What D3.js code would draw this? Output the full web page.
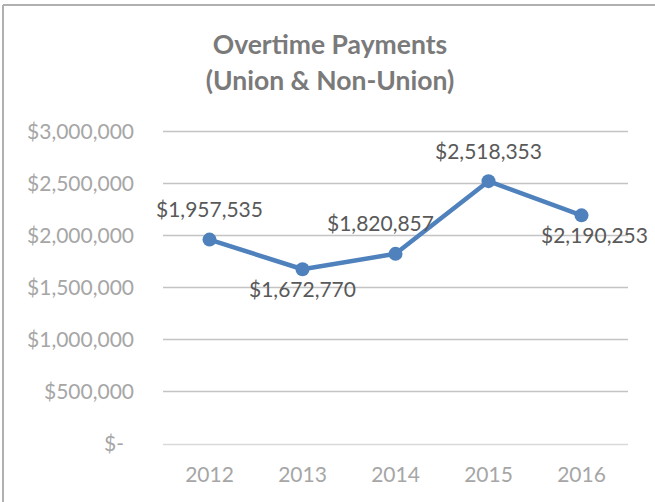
<!DOCTYPE html>
<html><head><meta charset="utf-8">
<script src="https://cdn.jsdelivr.net/npm/d3@7"></script>
<style>body{margin:0;background:#fff}svg{display:block}</style>
</head><body>
<script>
const years = ["2012","2013","2014","2015","2016"];
const payments = [1957535, 1672770, 1820857, 2518353, 2190253];
const yTicks = [0, 500000, 1000000, 1500000, 2000000, 2500000, 3000000];
const titleLines = ["Overtime Payments", "(Union & Non-Union)"];
const labelPlacement = ["above", "below", "aboveLeft", "above", "belowRight"];

const W = 655, H = 502;
const svg = d3.select("body").append("svg").attr("width", W).attr("height", H);
const font = "Lato, 'Open Sans', sans-serif";

// chart border (top and left visible)
svg.append("line").attr("x1",3).attr("x2",W).attr("y1",5).attr("y2",5).attr("stroke","#b0b0b0").attr("stroke-width",2);
svg.append("line").attr("x1",3).attr("x2",3).attr("y1",5).attr("y2",H).attr("stroke","#b0b0b0").attr("stroke-width",2);

const x = d3.scaleBand().domain(years).range([163, 628]);
const y = d3.scaleLinear().domain([0, 3000000]).range([443.5, 131]);

// title
svg.append("g").selectAll("text").data(titleLines).join("text")
  .attr("x", 330).attr("y", (d,i) => 45 + i*36).attr("dy","0.35em")
  .attr("text-anchor","middle").attr("font-family", font).attr("font-weight","bold")
  .attr("font-size", 26.5).attr("fill","#7a7a7a").text(d => d);

// grid
const grid = svg.append("g");
grid.selectAll("line").data(yTicks).join("line")
  .attr("x1", 163).attr("x2", 628)
  .attr("y1", d => Math.round(y(d)) + 0.5).attr("y2", d => Math.round(y(d)) + 0.5)
  .attr("stroke", d => d === 0 ? "#d9d9d9" : "#c4c4c4").attr("stroke-width", 1.5);

// y axis labels
const fmt = d => d === 0 ? "$-" : "$" + d3.format(",")(d);
const yAxis = d3.axisLeft(y).tickValues(yTicks).tickFormat(fmt).tickSize(0).tickPadding(0);
const yg = svg.append("g").attr("transform","translate(134,0)").call(yAxis);
yg.select(".domain").remove();
yg.selectAll("text").attr("font-family", font).attr("font-size", 21).attr("fill","#a6a6a6").attr("dy","0.35em");
yg.selectAll("text").filter(d => d === 0).attr("dx", -10);

// x axis labels
const xAxis = d3.axisBottom(x).tickSize(0).tickPadding(0);
const xg = svg.append("g").attr("transform","translate(0,475)").call(xAxis);
xg.select(".domain").remove();
xg.selectAll("text").attr("font-family", font).attr("font-size", 21).attr("fill","#a6a6a6").attr("dy","0.35em");

// line
const cx = d => x(d) + x.bandwidth()/2;
const line = d3.line().x((d,i) => cx(years[i])).y(d => y(d));
svg.append("path").datum(payments).attr("d", line)
  .attr("fill","none").attr("stroke","#4f81bd").attr("stroke-width",4.5).attr("stroke-linejoin","round");
svg.append("g").selectAll("circle").data(payments).join("circle")
  .attr("cx", (d,i) => cx(years[i])).attr("cy", d => y(d)).attr("r", 7).attr("fill","#4f81bd");

// data labels
const off = {above:[0,-30], below:[0,20], aboveLeft:[-15,-30], belowRight:[13,20]};
svg.append("g").selectAll("text").data(payments).join("text")
  .attr("x", (d,i) => cx(years[i]) + off[labelPlacement[i]][0])
  .attr("y", (d,i) => y(d) + off[labelPlacement[i]][1])
  .attr("dy","0.35em").attr("text-anchor","middle")
  .attr("font-family", font).attr("font-size", 21).attr("fill","#595959")
  .text(d => "$" + d3.format(",")(d));
</script>
</body></html>
